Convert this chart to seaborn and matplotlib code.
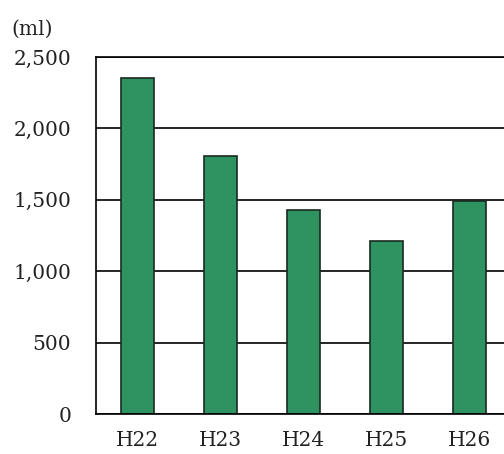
import numpy as np
import pandas as pd
import seaborn as sns
import matplotlib.pyplot as plt
from matplotlib.ticker import FixedLocator, FuncFormatter

years = ['H22', 'H23', 'H24', 'H25', 'H26']
volume = [2350, 1810, 1430, 1210, 1495]
yticks = [0, 500, 1000, 1500, 2000, 2500]

df = pd.DataFrame({'year': years, 'ml': volume})

sns.set_theme(style='white')
plt.rcParams['font.family'] = ['DejaVu Serif']

fig = plt.figure(figsize=(5.04, 4.54), dpi=100)
# axes run past the right edge of the picture (chart is cropped there)
x0, y0, y1 = 96 / 504, 1 - 414 / 454, 1 - 57 / 454
ax = fig.add_axes([x0, y0, 5.2 * 83 / 504, y1 - y0])

ax.set_axisbelow(True)
ax.yaxis.grid(True, color='black', linewidth=1.2)
sns.barplot(data=df, x='year', y='ml', color='#2f9361', saturation=1,
            width=0.4, edgecolor='#1a2a20', linewidth=1.2, ax=ax)

ax.set_xlim(-0.5, 4.7)
ax.set_ylim(0, 2500)
ax.set_yticks(yticks)
ax.yaxis.set_major_formatter(FuncFormatter(lambda v, p: f'{int(v):,}'))
ax.tick_params(axis='y', length=0, pad=18, labelsize=14.5, labelcolor='#222222')
ax.tick_params(axis='x', which='major', length=0, pad=12, labelsize=14.5, labelcolor='#222222')
ax.xaxis.set_minor_locator(FixedLocator(np.arange(0.5, len(years) - 0.5, 1)))
ax.tick_params(axis='x', which='minor', direction='in', length=7, width=1, color='black')
ax.set_xlabel('')
ax.set_ylabel('')

for s in ['left', 'top', 'bottom', 'right']:
    ax.spines[s].set_color('black')
    ax.spines[s].set_linewidth(1.2)

fig.text(11 / 504, 1 - 29 / 454, '(ml)', fontsize=14.5, va='center', ha='left', color='#222222')

fig.savefig('out.png', dpi=100)
